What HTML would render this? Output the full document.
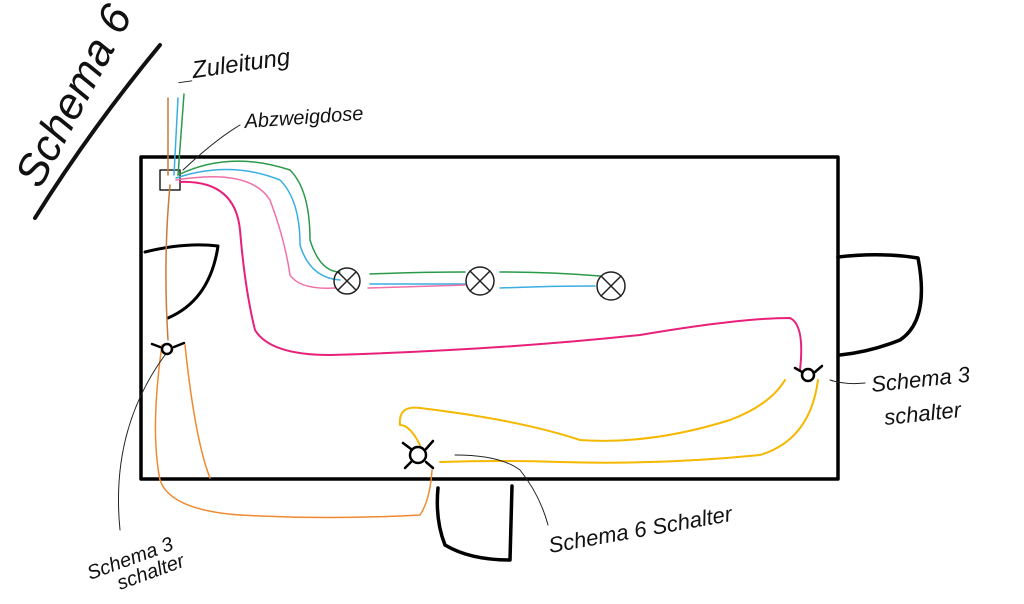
<!DOCTYPE html>
<html><head><meta charset="utf-8"><style>html,body{margin:0;padding:0;background:#fff}svg{display:block}</style></head>
<body>
<svg width="1024" height="604" viewBox="0 0 1024 604" xmlns="http://www.w3.org/2000/svg" fill="none" stroke-linecap="round" stroke-linejoin="round">
<!-- title -->
<text x="0" y="0" transform="translate(40,190) rotate(-62)" font-family="Liberation Sans, sans-serif" font-size="44" font-style="italic" fill="#111" stroke="none">Schema 6</text>
<path d="M35 218 Q90 130 160 45" stroke="#111" stroke-width="4"/>
<!-- room -->
<rect x="141" y="157" width="697" height="322" stroke="#000" stroke-width="3.5"/>
<!-- doors -->
<path d="M145 252 Q185 242 218 246 Q210 300 168 318" stroke="#000" stroke-width="3"/>
<path d="M838 257 Q880 252 918 258 Q930 320 900 340 Q870 352 840 355" stroke="#000" stroke-width="3.5"/>
<path d="M512 486 L510 560 Q470 560 445 545 Q435 520 438 488" stroke="#000" stroke-width="3.5"/>
<!-- box -->
<rect x="160" y="170" width="20" height="20" stroke="#222" stroke-width="1.5"/>
<!-- feed wires -->
<path d="M168 98 L168 175" stroke="#c87a3a" stroke-width="1.5"/>
<path d="M178 98 L174 175" stroke="#3aaee0" stroke-width="1.5"/>
<path d="M184 94 L178 175" stroke="#2a9a4a" stroke-width="1.5"/>
<!-- brown to left switch -->
<path d="M170 185 Q163 260 168 340" stroke="#c87a3a" stroke-width="1.5"/>
<!-- green -->
<path d="M178 175 Q230 150 290 170 Q310 190 310 240 Q320 272 340 272 M370 274 Q420 272 465 272 M500 272 Q550 272 600 276" stroke="#2a9a4a" stroke-width="1.5"/>
<!-- blue -->
<path d="M176 178 Q230 160 280 180 Q300 200 300 245 Q310 278 340 280 M370 284 L465 284 M500 288 Q550 286 595 286" stroke="#3aaee0" stroke-width="1.5"/>
<!-- pink light -->
<path d="M176 180 Q250 168 270 200 Q285 240 290 275 Q300 290 335 288 M368 288 L465 285" stroke="#f070a8" stroke-width="1.5"/>
<!-- magenta -->
<path d="M180 182 Q235 180 240 230 Q245 290 255 330 Q270 355 330 355 Q500 350 640 335 Q740 318 790 318 Q805 325 800 370" stroke="#e8207a" stroke-width="2"/>
<!-- lamps -->
<g stroke="#222" stroke-width="1.5">
<circle cx="347" cy="281" r="13"/><path d="M338 272 L356 290 M356 272 L338 290"/>
<circle cx="480" cy="281" r="14"/><path d="M470 271 L490 291 M490 271 L470 291"/>
<circle cx="611" cy="286" r="14"/><path d="M601 276 L621 296 M621 276 L601 296"/>
</g>
<!-- orange -->
<path d="M162 345 Q150 430 160 480 Q170 510 240 515 Q330 520 420 515 Q430 500 432 470 M185 345 Q195 440 210 478" stroke="#f08a30" stroke-width="1.5"/>
<!-- yellow -->
<path d="M420 445 Q410 425 400 425 Q398 405 420 408 Q520 420 580 440 Q650 445 730 420 Q770 405 785 380 M440 462 Q500 460 560 462 Q660 465 760 455 Q810 440 818 380" stroke="#f5b800" stroke-width="2"/>
<!-- switches -->
<g stroke="#000" stroke-width="2.5">
<circle cx="167" cy="349" r="5"/><path d="M152 344 L160 347 M174 347 L184 343"/>
<circle cx="808" cy="375" r="6"/><path d="M795 368 L802 372 M815 372 L822 366"/>
<circle cx="418" cy="455" r="8"/><path d="M403 443 L411 449 M426 449 L433 441 M405 468 L411 462 M426 462 L433 468"/>
</g>
<!-- leader lines -->
<path d="M165 355 Q110 430 120 530" stroke="#222" stroke-width="1"/>
<path d="M830 380 Q845 385 865 383" stroke="#222" stroke-width="1"/>
<path d="M455 455 Q500 455 520 470 Q540 495 548 525" stroke="#222" stroke-width="1"/>
<path d="M183 170 Q215 140 240 125" stroke="#222" stroke-width="1"/>
<!-- labels -->
<g font-family="Liberation Sans, sans-serif" font-style="italic" fill="#111" stroke="none">
<text x="180" y="80" font-size="24" transform="rotate(-8 180 80)">_Zuleitung</text>
<text x="245" y="128" font-size="20" transform="rotate(-4 245 128)">Abzweigdose</text>
<text x="872" y="392" font-size="22" transform="rotate(-6 872 392)">Schema 3</text>
<text x="885" y="425" font-size="22" transform="rotate(-6 885 425)">schalter</text>
<text x="550" y="553" font-size="22" transform="rotate(-10 550 553)">Schema 6 Schalter</text>
<text x="90" y="580" font-size="20" transform="rotate(-20 90 580)">Schema 3</text>
<text x="120" y="590" font-size="20" transform="rotate(-20 120 590)">schalter</text>
</g>
</svg>
</body></html>
